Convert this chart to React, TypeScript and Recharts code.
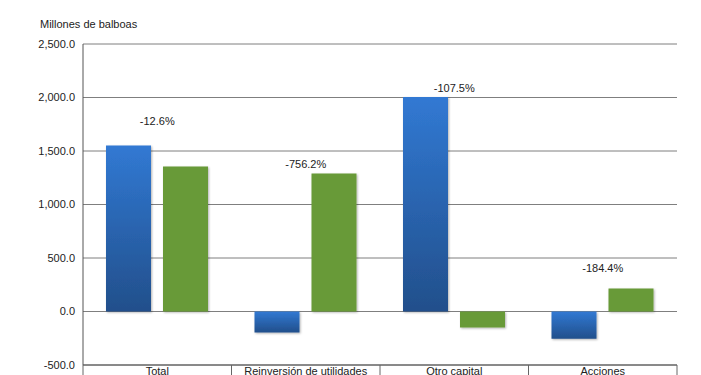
import { ComposedChart, Bar, Scatter, XAxis, YAxis, CartesianGrid } from 'recharts';

const categories = ['Total', 'Reinversión de utilidades', 'Otro capital', 'Acciones'];
const serieA = [1551, -196, 2005, -255];
const serieB = [1355, 1289, -150, 215];
const variacion = ['-12.6%', '-756.2%', '-107.5%', '-184.4%'];
// altura (en millones) donde se ubica cada etiqueta de variación
const etiquetaEn = [1785, 1383, 2093, 402];
const yTicks = [-500, 0, 500, 1000, 1500, 2000, 2500];

const data = categories.map((name, i) => ({
  name,
  a: serieA[i],
  b: serieB[i],
  pct: variacion[i],
  labelAt: etiquetaEn[i],
}));

const W = 701;
const H = 375;
const M = { top: 44, right: 24, left: 0, bottom: 0 };
const Y_W = 83;
const band = (W - M.left - M.right - Y_W) / categories.length;
const font = '"Liberation Sans", Arial, sans-serif';

const fmt = (v: number) =>
  v.toLocaleString('en-US', { minimumFractionDigits: 1, maximumFractionDigits: 1 });

function CatTick(props: any) {
  const { x, y, payload, index } = props;
  return (
    <g>
      {index === 0 && <line x1={x - band / 2} x2={x - band / 2} y1={y} y2={y + 12} stroke="#666" />}
      <line x1={x + band / 2} x2={x + band / 2} y1={y} y2={y + 12} stroke="#666" />
      <text x={x} y={y + 10} textAnchor="middle" fontSize={11} fill="#222" fontFamily={font}>
        {payload.value}
      </text>
    </g>
  );
}

function PctLabel(props: any) {
  const { cx, cy, payload } = props;
  return (
    <text x={cx} y={cy} dy={4} textAnchor="middle" fontSize={11} fill="#222" fontFamily={font}>
      {payload.pct}
    </text>
  );
}

function App(): JSX.Element {
  return (
    <div style={{ position: 'absolute', left: 0, top: 0, width: W, height: H, background: '#fff' }}>
      <div
        style={{
          position: 'absolute',
          left: 40,
          top: 18,
          fontFamily: font,
          fontSize: 11,
          color: '#222',
        }}
      >
        Millones de balboas
      </div>
      <ComposedChart width={W} height={H} data={data} margin={M} barSize={45} barGap={12}>
        <defs>
          <linearGradient id="gBlue" x1="0" y1="0" x2="0" y2="1">
            <stop offset="0%" stopColor="#3179d3" />
            <stop offset="100%" stopColor="#224f8b" />
          </linearGradient>
          <filter id="sh" x="-10%" y="-10%" width="130%" height="130%">
            <feDropShadow dx="1" dy="1" stdDeviation="0.8" floodColor="#000" floodOpacity="0.3" />
          </filter>
        </defs>
        <CartesianGrid vertical={false} stroke="#7f7f7f" />
        <XAxis
          dataKey="name"
          height={10}
          axisLine={{ stroke: '#555' }}
          tickLine={false}
          tickSize={0}
          tickMargin={0}
          interval={0}
          tick={<CatTick />}
        />
        <YAxis
          width={Y_W}
          domain={[-500, 2500]}
          ticks={yTicks}
          tickFormatter={fmt}
          axisLine={{ stroke: '#555' }}
          tickLine={false}
          tick={{ fontSize: 11, fill: '#222', fontFamily: font }}
        />
        <YAxis
          yAxisId="r"
          orientation="right"
          width={0}
          domain={[-500, 2500]}
          tick={false}
          tickLine={false}
          axisLine={{ stroke: '#555' }}
        />
        <Bar dataKey="a" fill="url(#gBlue)" filter="url(#sh)" isAnimationActive={false} />
        <Bar dataKey="b" fill="#689a38" filter="url(#sh)" isAnimationActive={false} />
        <Scatter dataKey="labelAt" shape={<PctLabel />} isAnimationActive={false} />
      </ComposedChart>
    </div>
  );
}

export default App;
